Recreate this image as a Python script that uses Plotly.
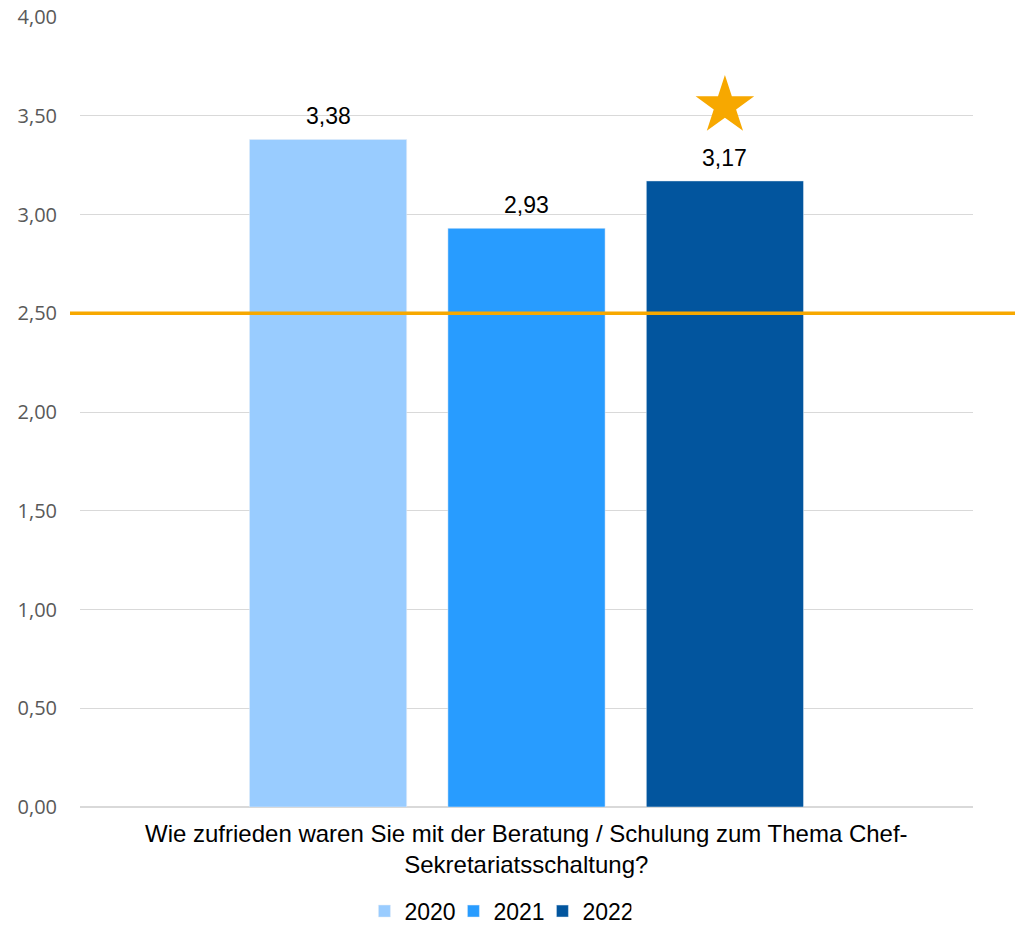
import plotly.graph_objects as go

# Satisfaction survey: mean score per year
years = ["2020", "2021", "2022"]
scores = [3.38, 2.93, 3.17]
colors = ["#99CCFF", "#289CFF", "#02559E"]
threshold = 2.50
highlight_year = "2022"
y_ticks = [0.0, 0.5, 1.0, 1.5, 2.0, 2.5, 3.0, 3.5, 4.0]
question = "Wie zufrieden waren Sie mit der Beratung / Schulung zum Thema Chef-<br>Sekretariatsschaltung?"

# layout constants for the grouped bars (one category, three bars)
slot = 0.2222
bar_w = 0.176

fig = go.Figure()
for i, (yr, val, col) in enumerate(zip(years, scores, colors)):
    center = (i - 1) * slot
    fig.add_trace(go.Bar(
        x=[0], y=[val], name=yr, marker_color=col,
        width=bar_w, offset=center - bar_w / 2,
    ))
    fig.add_annotation(
        x=center, y=val, text=f"{val:.2f}".replace(".", ","),
        showarrow=False, yanchor="bottom", yshift=8,
        font=dict(family="Liberation Sans, Arial", size=23, color="#000000"),
    )

# star marker over the highlighted year
hi = years.index(highlight_year)
fig.add_trace(go.Scatter(
    x=[(hi - 1) * slot], y=[scores[hi] + 0.38], mode="markers",
    marker=dict(symbol="star", size=44, color="#F7A800", line=dict(width=0)),
    showlegend=False, hoverinfo="skip",
))

# reference line at the threshold
fig.add_shape(
    type="line", xref="paper", yref="y",
    x0=-0.0112, x1=1.06, y0=threshold, y1=threshold,
    line=dict(color="#F7A800", width=3.5), layer="above",
)

fig.add_annotation(
    x=0.5, xref="paper", y=-0.014, yref="paper", yanchor="top",
    text=question, showarrow=False, align="center",
    font=dict(family="Liberation Sans, Arial", size=24, color="#000000"),
)

fig.update_layout(
    width=1015, height=926,
    margin=dict(l=80, r=42, t=17, b=119, autoexpand=False),
    paper_bgcolor="white", plot_bgcolor="white",
    barmode="overlay",
    separators=",.",
    showlegend=True,
    legend=dict(
        orientation="h", x=0.468, xanchor="center", y=-0.159, yanchor="bottom",
        font=dict(family="Liberation Sans, Arial", size=23, color="#000000"),
        itemwidth=30, traceorder="normal", tracegroupgap=0,
        entrywidth=44, entrywidthmode="pixels",
    ),
    xaxis=dict(range=[-0.5, 0.5], showticklabels=False, showgrid=False,
               zeroline=False, showline=False, fixedrange=True),
    yaxis=dict(range=[0, 4], tickvals=y_ticks, tickformat=".2f",
               showgrid=True, gridcolor="#D9D9D9", gridwidth=1.3,
               zeroline=True, zerolinecolor="#D9D9D9", zerolinewidth=1.5,
               showline=False, ticks="",
               tickfont=dict(family="Open Sans", size=20, color="#595959"),
               ticklabelstandoff=22),
)

fig.write_html("out.html")
